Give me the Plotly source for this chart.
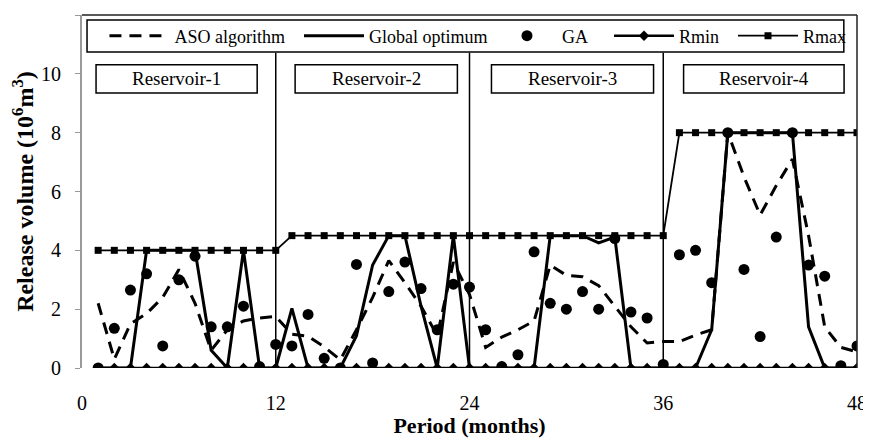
import plotly.graph_objects as go

months = list(range(1, 49))

aso = [2.2, 0.3, 1.5, 1.85, 2.4, 3.35, 2.2, 0.6, 1.3, 1.6, 1.7, 1.75,
       1.15, 1.08, 0.72, 0.28, 1.3, 2.4, 3.65, 2.9, 2.1, 1.1, 3.6, 2.5,
       0.7, 1.05, 1.3, 1.6, 3.5, 3.15, 3.1, 2.8, 2.1, 1.4, 0.85, 0.9,
       0.9, 1.12, 1.3, 8.0, 6.5, 5.2, 6.2, 7.1, 4.5, 1.4, 0.7, 0.55]

glob = [0, 0, 0, 4, 4, 4, 4, 0.6, 0, 4, 0, 0,
        2.03, 0, 0, 0, 1.1, 3.5, 4.5, 4.5, 2.1, 0, 4.5, 0,
        0, 0, 0, 0, 4.5, 4.5, 4.5, 4.25, 4.45, 0, 0, 0,
        0, 0, 1.3, 8, 8, 8, 8, 8, 1.4, 0, 0, 0]

ga = [0, 1.35, 2.65, 3.2, 0.75, 3.0, 3.8, 1.4, 1.4, 2.1, 0.05, 0.8,
      0.75, 1.82, 0.33, 0, 3.52, 0.17, 2.6, 3.6, 2.7, 1.3, 2.85, 2.75,
      1.3, 0.05, 0.45, 3.95, 2.2, 2.0, 2.6, 2.0, 4.4, 1.9, 1.7, 0.12,
      3.85, 4.0, 2.9, 8.0, 3.35, 1.07, 4.45, 8.0, 3.5, 3.12, 0.08, 0.75]

rmin = [0] * 48
rmax = [4] * 12 + [4.5] * 24 + [8] * 12

reservoirs = ["Reservoir-1", "Reservoir-2", "Reservoir-3", "Reservoir-4"]
box_x0 = [0.87, 13.2, 25.36, 37.26]
box_x1 = [10.85, 23.25, 35.4, 47.2]
separators = [12, 24, 36]

x_ticks = [0, 12, 24, 36, 48]
y_ticks = [0, 2, 4, 6, 8, 10, 12]

FONT = "Liberation Serif, Times New Roman, serif"

# legend entry left positions (paper fraction of plot width)
leg_x = {"legend": 0.029, "legend2": 0.280, "legend3": 0.529, "legend4": 0.680, "legend5": 0.840}

fig = go.Figure()
fig.add_trace(go.Scatter(x=months, y=aso, mode="lines", name="ASO algorithm", legend="legend",
                         line=dict(color="black", width=3, dash="12px,8px")))
fig.add_trace(go.Scatter(x=months, y=glob, mode="lines", name="Global optimum", legend="legend2",
                         line=dict(color="black", width=3)))
fig.add_trace(go.Scatter(x=months, y=rmin, mode="lines+markers", name="Rmin", legend="legend4",
                         line=dict(color="black", width=2.5),
                         marker=dict(symbol="diamond", size=8, color="black")))
fig.add_trace(go.Scatter(x=months, y=rmax, mode="lines+markers", name="Rmax", legend="legend5",
                         line=dict(color="black", width=1.8),
                         marker=dict(symbol="square", size=7, color="black")))
fig.add_trace(go.Scatter(x=months, y=ga, mode="markers", name="GA", legend="legend3",
                         marker=dict(symbol="circle", size=11, color="black")))

shapes = []
for s in separators:
    shapes.append(dict(type="line", xref="x", yref="y", x0=s, x1=s, y0=0, y1=10.72,
                       line=dict(color="black", width=1.5), layer="below"))
for a, b in zip(box_x0, box_x1):
    shapes.append(dict(type="rect", xref="x", yref="y", x0=a, x1=b, y0=9.35, y1=10.31,
                       line=dict(color="black", width=1.5), fillcolor="white"))
# legend frame
shapes.append(dict(type="rect", xref="paper", yref="paper", x0=0.0065, x1=0.983, y0=0.895, y1=0.986,
                   line=dict(color="black", width=1.5), fillcolor="white", layer="above"))
shapes.append(dict(type="line", xref="paper", yref="paper", x0=0, x1=1, y0=1, y1=1,
                   line=dict(color="#222", width=1.5)))
shapes.append(dict(type="line", xref="paper", yref="paper", x0=1, x1=1, y0=0, y1=1,
                   line=dict(color="#222", width=1.5)))

annotations = []
for name, a, b in zip(reservoirs, box_x0, box_x1):
    annotations.append(dict(x=(a + b) / 2, y=9.83, xref="x", yref="y", text=name,
                            showarrow=False, font=dict(family=FONT, size=19, color="black")))

legend_common = dict(orientation="h", yanchor="middle", xanchor="left", y=0.9405,
                     borderwidth=0, bgcolor="rgba(0,0,0,0)", itemwidth=60,
                     font=dict(family=FONT, size=18, color="black"))

layout_legends = {k: dict(legend_common, x=v) for k, v in leg_x.items()}

fig.update_layout(
    template="none",
    width=863, height=430,
    margin=dict(l=74, r=14, t=7, b=70, autoexpand=False),
    plot_bgcolor="white", paper_bgcolor="white",
    font=dict(family=FONT, color="black"),
    showlegend=True,
    shapes=shapes,
    annotations=annotations,
    xaxis=dict(range=[0, 48], tickvals=x_ticks, showgrid=False, zeroline=False,
               showline=False, ticks="", ticklabelstandoff=21, automargin=False,
               ticklabeloverflow="allow",
               tickfont=dict(family=FONT, size=20, color="black"),
               title=dict(text="<b>Period (months)</b>", standoff=4,
                          font=dict(family=FONT, size=22, color="black"))),
    yaxis=dict(range=[0, 12], tickvals=y_ticks, showgrid=False, zeroline=False,
               showline=True, linecolor="#9a9a9a", linewidth=2, automargin=False,
               ticks="outside", ticklen=5, tickcolor="#9a9a9a", ticklabelstandoff=10,
               tickfont=dict(family=FONT, size=20, color="black"),
               title=dict(text="<b>Release volume (10<sup>6</sup>m<sup>3</sup>)</b>", standoff=3,
                          font=dict(family=FONT, size=24, color="black"))),
    **layout_legends,
)

fig.write_html("out.html")
